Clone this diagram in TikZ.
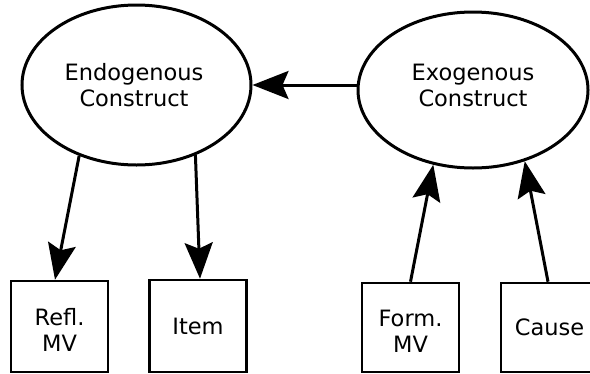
\documentclass[tikz,border=0pt]{standalone}
\usepackage{fontspec}
\setmainfont{DejaVu Sans}
\usetikzlibrary{arrows.meta,shapes.geometric}
\begin{document}
\begin{tikzpicture}[x=1bp,y=-1bp,
  every node/.style={font=\fontsize{22.5bp}{26bp}\selectfont, align=center, inner sep=0pt},
  construct/.style={ellipse, draw, line width=3bp},
  mvbox/.style={rectangle, draw, line width=2.6bp, minimum width=97bp, minimum height=90bp},
  arr/.style={line width=3bp, -{Stealth[length=36bp, width=28bp, inset=6bp]}}]
\useasboundingbox (0,0) rectangle (590,373);
\clip (0,0) rectangle (590,373);

% latent constructs
\node[construct, minimum width=229bp, minimum height=160bp] (endo) at (136.5,85) {};
\node (endotext) at (134,85) {Endogenous\\Construct};
\node[construct, minimum width=230bp, minimum height=156bp] (exo) at (473,90) {};
\node (exotext) at (473,85) {Exogenous\\Construct};

% manifest variables
\node[mvbox, minimum height=91bp] (refl) at (59.5,326.5) {};
\node (refltext) at (59.5,330) {Refl.\\MV};
\node[mvbox, minimum height=92bp] (item) at (198,326) {Item};
\node[mvbox, minimum height=89bp] (form) at (410.5,327.5) {};
\node (formtext) at (410.5,331.5) {Form.\\MV};
\node[mvbox, minimum height=89bp] (cause) at (549.5,327.5) {Cause};

% structural path
\draw[arr] (exo.west |- endo.east) -- (endo.east);

% reflective indicators
\draw[arr] (endo.231) -- ([xshift=-4.5bp]refl.north);
\draw[arr] (endo.310) -- ([xshift=2bp]item.north);

% formative indicators
\draw[arr] (form.north) -- (exo.242);
\draw[arr] ([xshift=-1.5bp]cause.north) -- (exo.306);
\end{tikzpicture}
\end{document}
